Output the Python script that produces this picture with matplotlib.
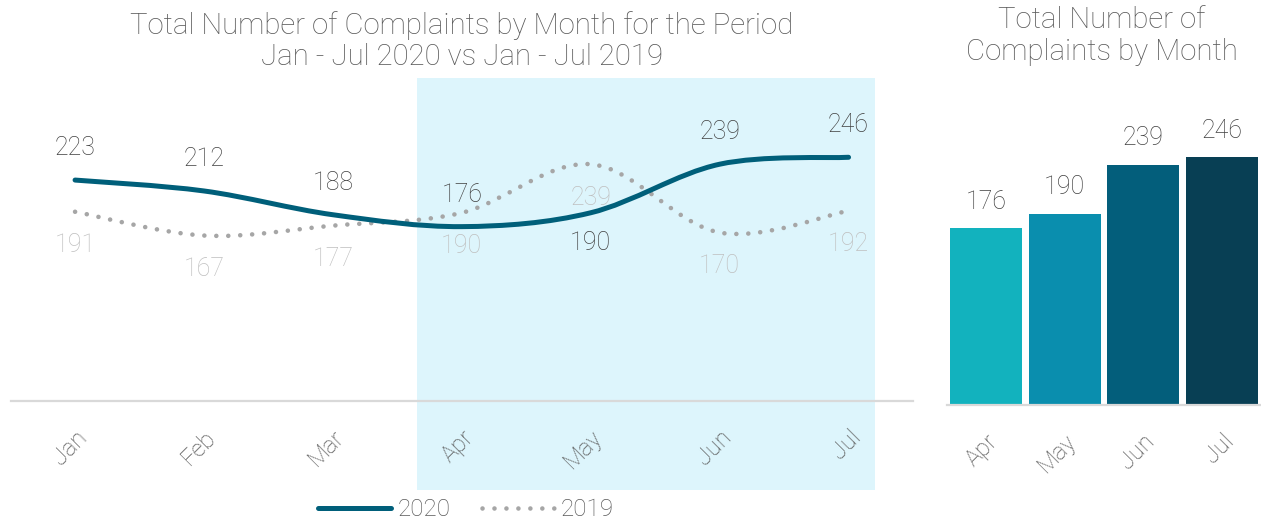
import matplotlib
matplotlib.use("Agg")
import matplotlib.pyplot as plt
from matplotlib.path import Path
from matplotlib.patches import PathPatch, Rectangle
from matplotlib.lines import Line2D
from matplotlib.transforms import blended_transform_factory
import numpy as np

plt.rcParams['font.family'] = ['Roboto', 'DejaVu Sans']

# ---- data ----
months = ["Jan", "Feb", "Mar", "Apr", "May", "Jun", "Jul"]
values_2020 = [223, 212, 188, 176, 190, 239, 246]
values_2019 = [191, 167, 177, 190, 239, 170, 192]
label_pos_2020 = ["above", "above", "above", "above", "below", "above", "above"]
label_pos_2019 = ["below"] * 7

bar_months = ["Apr", "May", "Jun", "Jul"]
bar_values = [176, 190, 239, 246]
bar_colors = ["#12B2BE", "#0A8EAE", "#035E7B", "#083F54"]

TXT = "#595959"
DARK = "#404040"
LIGHT = "#BFBFBF"
C2020 = "#005F7A"
C2019 = "#A6A6A6"
AXIS = "#D9D9D9"
HILITE = "#DDF5FC"
FW = "light"

fig = plt.figure(figsize=(12.61, 5.23), dpi=100)


def smooth_path(xs, ys):
    """Cubic Bezier path through the points (Excel-like smoothing)."""
    pts = np.column_stack([xs, ys]).astype(float)
    n = len(pts)
    verts = [pts[0]]
    codes = [Path.MOVETO]
    for i in range(n - 1):
        p0 = pts[i - 1] if i > 0 else pts[i]
        p1 = pts[i]
        p2 = pts[i + 1]
        p3 = pts[i + 2] if i + 2 < n else pts[i + 1]
        c1 = p1 + (p2 - p0) / 6.0
        c2 = p2 - (p3 - p1) / 6.0
        verts += [c1, c2, p2]
        codes += [Path.CURVE4] * 3
    return Path(verts, codes)


# ---- left: line chart ----
W, H = 1261.0, 523.0
ax = fig.add_axes([10.6 / W, 1 - 401 / H, (913 - 10.6) / W, (401 - 80) / H])
ax.set_facecolor("none")
x = np.arange(len(months))
ax.set_xlim(-0.5, len(months) - 0.5)
ax.set_ylim(0, 324)

# highlight rectangle (x in data units, y in figure units)
trans = blended_transform_factory(ax.transData, fig.transFigure)
rect = Rectangle((2.655, 1 - 490 / H), 6.205 - 2.655, (490 - 78) / H,
                 transform=trans, facecolor=HILITE, edgecolor="none", zorder=-5)
fig.patches.append(rect)

p20 = PathPatch(smooth_path(x, values_2020), fill=False, edgecolor=C2020,
                linewidth=3.6, capstyle="round", joinstyle="round", zorder=4)
ax.add_patch(p20)
p19 = PathPatch(smooth_path(x, values_2019), fill=False, edgecolor=C2019,
                linewidth=3.3, linestyle=(0, (0.01, 2.6)), capstyle="round", zorder=3)
ax.add_patch(p19)

for xi, v, pos in zip(x, values_2020, label_pos_2020):
    off = 23 if pos == "above" else -22
    ax.annotate(str(v), (xi, v), xytext=(0, off), textcoords="offset points",
                ha="center", va="center", fontsize=18, color=DARK, fontweight=FW, zorder=6)
for xi, v, pos in zip(x, values_2019, label_pos_2019):
    off = 23 if pos == "above" else -24
    ax.annotate(str(v), (xi, v), xytext=(0, off), textcoords="offset points",
                ha="center", va="center", fontsize=18, color=LIGHT, fontweight=FW, zorder=6)

ax.set_xticks(x)
ax.set_xticklabels(months, rotation=45, ha="right", rotation_mode="anchor",
                   fontsize=17, color=TXT, fontweight=FW)
ax.tick_params(axis="x", length=0, pad=18)
ax.set_yticks([])
for s in ["top", "right", "left"]:
    ax.spines[s].set_visible(False)
ax.spines["bottom"].set_color(AXIS)
ax.spines["bottom"].set_linewidth(1.6)

handles = [Line2D([], [], color=C2020, lw=3.6, solid_capstyle="round"),
           Line2D([], [], color=C2019, lw=3.3, linestyle=(0, (0.01, 2.6)),
                  dash_capstyle="round")]
leg = fig.legend(handles, ["2020", "2019"], loc="center", bbox_to_anchor=(466 / W, 1 - 510 / H),
                 ncol=2, frameon=False, handlelength=3.0, handletextpad=0.25,
                 columnspacing=1.3, labelcolor=TXT, prop={"weight": FW, "size": 17.5})

fig.text(462 / W, 1 - 41 / H,
         "Total Number of Complaints by Month for the Period\nJan - Jul 2020 vs Jan - Jul 2019",
         ha="center", va="center", fontsize=21.2, color=TXT, fontweight=FW, linespacing=1.17)

# ---- right: bar chart ----
bx = fig.add_axes([947 / W, 1 - 405 / H, (1261 - 947) / W, (405 - 80) / H])
bx.set_facecolor("none")
xb = np.arange(len(bar_months))
bx.bar(xb, bar_values, width=0.92, color=bar_colors, zorder=2)
bx.set_xlim(-0.5, len(bar_months) - 0.5)
bx.set_ylim(0, 323)
for xi, v in zip(xb, bar_values):
    bx.annotate(str(v), (xi, v), xytext=(0, 19), textcoords="offset points",
                ha="center", va="center", fontsize=18, color=DARK, fontweight=FW)
bx.set_xticks(xb)
bx.set_xticklabels(bar_months, rotation=45, ha="right", rotation_mode="anchor",
                   fontsize=17, color=TXT, fontweight=FW)
bx.tick_params(axis="x", length=0, pad=18)
bx.set_yticks([])
for s in ["top", "right", "left"]:
    bx.spines[s].set_visible(False)
bx.spines["bottom"].set_color(AXIS)
bx.spines["bottom"].set_linewidth(1.6)

fig.text(1102 / W, 1 - 36 / H, "Total Number of\nComplaints by Month",
         ha="center", va="center", fontsize=21.2, color=TXT, fontweight=FW, linespacing=1.17)

fig.savefig("out.png", dpi=100)
